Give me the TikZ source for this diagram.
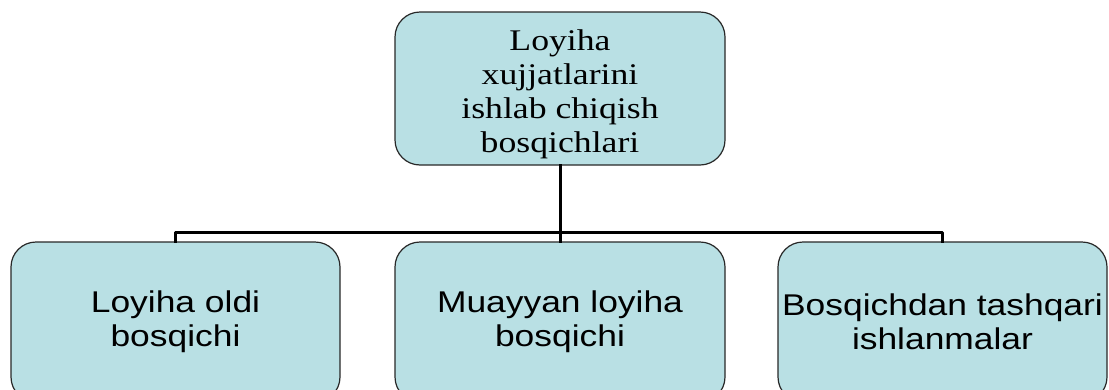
\documentclass[tikz,border=0pt]{standalone}
\usepackage{fontspec}
\setmainfont[FakeStretch=1.19]{Liberation Serif}
\newfontfamily\arialfont[FakeStretch=1.18]{Liberation Sans}
\definecolor{boxfill}{RGB}{185,224,228}
\definecolor{boxline}{RGB}{40,40,40}
\tikzset{
	stage/.style={draw=boxline, fill=boxfill, line width=1.2pt, rounded corners=25pt, align=center, inner sep=0pt},
	substage/.style={stage, minimum height=160pt, font=\arialfont\fontsize{30}{34}\selectfont},
	link/.style={line width=3pt, line cap=rect}
}
\begin{document}
\begin{tikzpicture}[x=1pt, y=-1pt, line join=round]
			\useasboundingbox (0,0) rectangle (1109,389);
			\node[stage, minimum width=330pt, minimum height=153pt, font=\fontsize{30}{34}\selectfont] (top) at (560,88.5) {\rule{0pt}{32pt}Loyiha\\xujjatlarini\\ishlab chiqish\\bosqichlari};
			\node[substage, minimum width=329pt] (oldi) at (175.5,322) {Loyiha oldi\\bosqichi};
			\node[substage, minimum width=330pt] (muayyan) at (560,322) {Muayyan loyiha\\bosqichi};
			\node[substage, minimum width=329pt] (tashqari) at (942.5,322) {Bosqichdan tashqari\\ishlanmalar};
			\coordinate (bus) at (560,232);
			% Bog'lovchi chiziqlar
			\draw[link] (top.south) -- (muayyan.north);
			\draw[link] (oldi.north) |- (bus) -| (tashqari.north);
		\end{tikzpicture}
\end{document}
